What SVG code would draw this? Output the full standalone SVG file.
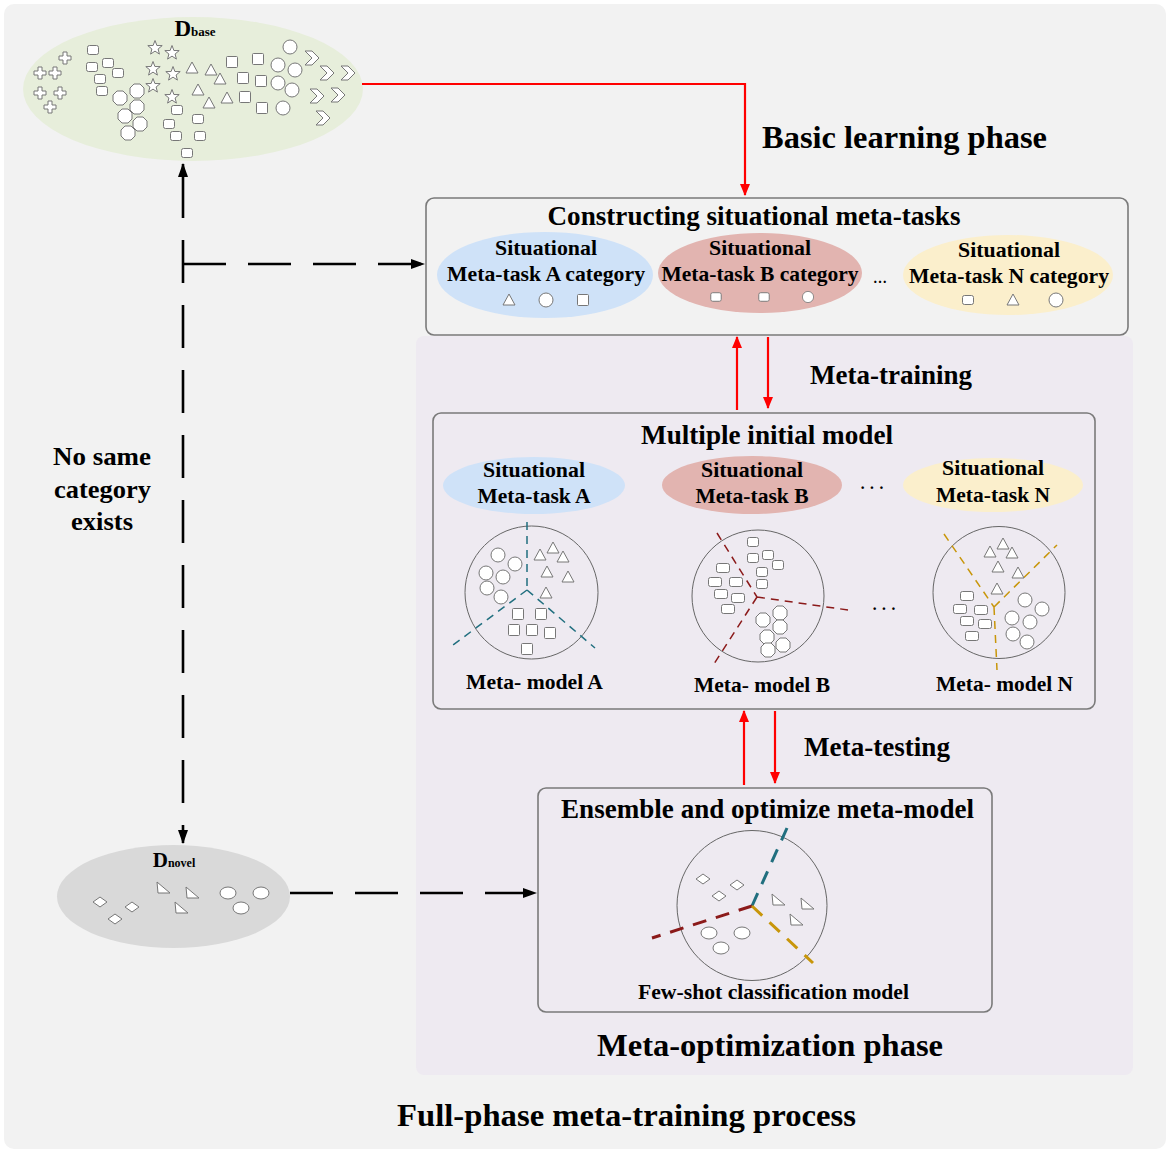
<svg xmlns="http://www.w3.org/2000/svg" xmlns:xlink="http://www.w3.org/1999/xlink" width="1170" height="1153" viewBox="0 0 1170 1153">
<style>
text{font-family:"Liberation Serif","Times New Roman",serif;font-weight:bold;fill:#000;text-anchor:middle}
.sh{fill:#fff;stroke:#777;stroke-width:1}
.box{stroke:#7a7a7a;stroke-width:1.6}
.red{stroke:#ff0000;stroke-width:2.2;fill:none}
.dash{stroke:#000;stroke-width:2.6;fill:none;stroke-dasharray:43 22}
.mc{fill:none;stroke:#666;stroke-width:1}
.t1{stroke:#216f7f;stroke-width:1.5;stroke-dasharray:8 6;fill:none}
.r1{stroke:#8b1a1a;stroke-width:1.5;stroke-dasharray:8 6;fill:none}
.y1{stroke:#c8960a;stroke-width:1.5;stroke-dasharray:8 6;fill:none}
.t3{stroke:#216f7f;stroke-width:3;stroke-dasharray:14 10;fill:none}
.r3{stroke:#8b1a1a;stroke-width:3;stroke-dasharray:14 10;fill:none}
.y3{stroke:#c8960a;stroke-width:3;stroke-dasharray:14 10;fill:none}
</style>
<defs>
<marker id="ar" viewBox="0 0 12 10" refX="11" refY="5" markerWidth="12" markerHeight="10" markerUnits="userSpaceOnUse" orient="auto-start-reverse"><path d="M0,0 L12,5 L0,10z" fill="#ff0000"/></marker>
<marker id="ab" viewBox="0 0 14 10" refX="13" refY="5" markerWidth="14" markerHeight="10" markerUnits="userSpaceOnUse" orient="auto-start-reverse"><path d="M0,0 L14,5 L0,10z" fill="#000"/></marker>
<path id="cross" class="sh" d="M-2,-6h4v4h4v4h-4v4h-4v-4h-4v-4h4z"/>
<rect id="trap" class="sh" x="-5.5" y="-4.5" width="11" height="9" rx="2"/>
<rect id="rr" class="sh" x="-6.5" y="-4.5" width="13" height="9" rx="2"/>
<polygon id="oct" class="sh" points="-3,-7 3,-7 7,-3 7,3 3,7 -3,7 -7,3 -7,-3"/>
<polygon id="star" class="sh" points="0,-7.5 1.9,-2.5 7.2,-2.4 3.1,1 4.4,6.1 0,3.1 -4.4,6.1 -3.1,1 -7.2,-2.4 -1.9,-2.5"/>
<path id="tri" class="sh" d="M0,-6 L6,5 L-6,5z"/>
<rect id="sq" class="sh" x="-5.5" y="-5.5" width="11" height="11" rx="1"/>
<circle id="circ" class="sh" r="7"/>
<path id="chev" class="sh" d="M-7,-7 h7 l7,7 l-7,7 h-7 l7,-7z"/>
<path id="dia" class="sh" d="M-7,0 L0,-5 L7,0 L0,5z"/>
<path id="rtri" class="sh" d="M-6,-6 L7,5 L-5,5z"/>
<ellipse id="oe" class="sh" rx="8" ry="6"/>
</defs>

<rect width="1170" height="1153" fill="#fff"/>
<rect x="4" y="4" width="1162" height="1145" rx="10" fill="#f2f2f2"/>
<rect id="meta-optimization-panel" x="416" y="336" width="717" height="739" rx="8" fill="#eeeaf1"/>

<g id="dbase">
<ellipse cx="193" cy="89" rx="170" ry="72" fill="#e7eedb"/>
<text x="195" y="36" font-size="23">D<tspan font-size="13">base</tspan></text>
<use href="#cross" x="65" y="58"/><use href="#cross" x="40" y="73"/><use href="#cross" x="55" y="73"/><use href="#cross" x="40" y="93"/><use href="#cross" x="60" y="93"/><use href="#cross" x="50" y="107"/>
<use href="#trap" x="93" y="50"/><use href="#trap" x="92" y="67"/><use href="#trap" x="108" y="63"/><use href="#trap" x="118" y="73"/><use href="#trap" x="100" y="79"/><use href="#trap" x="102" y="91"/>
<use href="#oct" x="120" y="98"/><use href="#oct" x="137" y="91"/><use href="#oct" x="137" y="107"/><use href="#oct" x="125" y="116"/><use href="#oct" x="140" y="124"/><use href="#oct" x="128" y="133"/>
<use href="#star" x="155" y="48"/><use href="#star" x="172" y="53"/><use href="#star" x="153" y="69"/><use href="#star" x="173" y="74"/><use href="#star" x="153" y="86"/><use href="#star" x="172" y="97"/>
<use href="#trap" x="177" y="110"/><use href="#trap" x="198" y="119"/><use href="#trap" x="169" y="124"/><use href="#trap" x="176" y="136"/><use href="#trap" x="200" y="136"/><use href="#trap" x="187" y="153"/>
<use href="#tri" x="192" y="68"/><use href="#tri" x="211" y="70"/><use href="#tri" x="220" y="79"/><use href="#tri" x="198" y="90"/><use href="#tri" x="209" y="103"/><use href="#tri" x="227" y="98"/>
<use href="#sq" x="232" y="62"/><use href="#sq" x="243" y="78"/><use href="#sq" x="258" y="59"/><use href="#sq" x="261" y="81"/><use href="#sq" x="245" y="97"/><use href="#sq" x="262" y="108"/>
<use href="#circ" x="290" y="47"/><use href="#circ" x="278" y="65"/><use href="#circ" x="295" y="70"/><use href="#circ" x="278" y="83"/><use href="#circ" x="292" y="90"/><use href="#circ" x="283" y="108"/>
<use href="#chev" x="312" y="58"/><use href="#chev" x="327" y="73"/><use href="#chev" x="348" y="73"/><use href="#chev" x="317" y="96"/><use href="#chev" x="338" y="95"/><use href="#chev" x="323" y="118"/>
</g>

<g id="dnovel">
<ellipse cx="173.5" cy="896.5" rx="116.5" ry="51.5" fill="#d9d9d9"/>
<text x="174" y="867" font-size="21">D<tspan font-size="12">novel</tspan></text>
<use href="#dia" x="100" y="902"/><use href="#dia" x="132" y="907"/><use href="#dia" x="115" y="919"/>
<use href="#rtri" x="163" y="888"/><use href="#rtri" x="192" y="893"/><use href="#rtri" x="181" y="908"/>
<use href="#oe" x="228" y="893"/><use href="#oe" x="261" y="893"/><use href="#oe" x="241" y="908"/>
</g>

<g id="constructing-box">
<rect class="box" x="426" y="198" width="702" height="137" rx="8" fill="#f2f2f2"/>
<text x="754" y="225" font-size="27" textLength="413" lengthAdjust="spacingAndGlyphs">Constructing situational meta-tasks</text>
<ellipse cx="545" cy="275" rx="108" ry="43" fill="#cfe2f8"/>
<ellipse cx="760" cy="273" rx="102" ry="40" fill="#e2b4b0"/>
<ellipse cx="1008" cy="275" rx="105" ry="40" fill="#fbefcc"/>
<text x="546" y="255" font-size="22" textLength="102" lengthAdjust="spacingAndGlyphs">Situational</text>
<text x="546" y="281" font-size="22" textLength="198" lengthAdjust="spacingAndGlyphs">Meta-task A category</text>
<text x="760" y="255" font-size="22" textLength="102" lengthAdjust="spacingAndGlyphs">Situational</text>
<text x="760" y="281" font-size="22" textLength="197" lengthAdjust="spacingAndGlyphs">Meta-task B category</text>
<text x="1009" y="257" font-size="22" textLength="102" lengthAdjust="spacingAndGlyphs">Situational</text>
<text x="1009" y="283" font-size="22" textLength="200" lengthAdjust="spacingAndGlyphs">Meta-task N category</text>
<text x="880" y="283" font-size="14" font-weight="normal" fill="#555">…</text>
<g transform="translate(509,300)"><use href="#tri"/></g>
<g transform="translate(546,300)"><use href="#circ"/></g>
<g transform="translate(583,300)"><use href="#sq"/></g>
<g transform="translate(716,297) scale(0.95)"><use href="#trap"/></g>
<g transform="translate(764,297) scale(0.95)"><use href="#trap"/></g>
<g transform="translate(808,297) scale(0.8)"><use href="#circ"/></g>
<g transform="translate(968,300)"><use href="#trap"/></g>
<g transform="translate(1013,300)"><use href="#tri"/></g>
<g transform="translate(1056,300)"><use href="#circ"/></g>
</g>

<g id="multiple-initial-model">
<rect class="box" x="433" y="413" width="662" height="296" rx="8" fill="#eeeaf1"/>
<text x="767" y="444" font-size="27" textLength="252" lengthAdjust="spacingAndGlyphs">Multiple initial model</text>
<ellipse cx="534" cy="485.5" rx="91" ry="28.5" fill="#cfe2f8"/>
<ellipse cx="752" cy="485" rx="90" ry="29" fill="#e2b4b0"/>
<ellipse cx="993" cy="485" rx="90" ry="27" fill="#fbefcc"/>
<text x="534" y="477" font-size="22" textLength="102" lengthAdjust="spacingAndGlyphs">Situational</text>
<text x="534" y="503" font-size="22" textLength="113" lengthAdjust="spacingAndGlyphs">Meta-task A</text>
<text x="752" y="477" font-size="22" textLength="102" lengthAdjust="spacingAndGlyphs">Situational</text>
<text x="752" y="503" font-size="22" textLength="113" lengthAdjust="spacingAndGlyphs">Meta-task B</text>
<text x="993" y="475" font-size="22" textLength="102" lengthAdjust="spacingAndGlyphs">Situational</text>
<text x="993" y="502" font-size="22" textLength="114" lengthAdjust="spacingAndGlyphs">Meta-task N</text>
<text x="872" y="493" font-size="16" font-weight="normal">· · ·</text>
<text x="884" y="614" font-size="16" font-weight="normal">· · ·</text>

<circle class="mc" cx="531.5" cy="592.5" r="66.5"/>
<path class="t1" d="M527,522 L527,590 M527,590 L453,645 M527,590 L595,648"/>
<use href="#circ" x="498" y="555"/><use href="#circ" x="515" y="564"/><use href="#circ" x="486" y="573"/><use href="#circ" x="503" y="577"/><use href="#circ" x="487" y="588"/><use href="#circ" x="501" y="597"/>
<use href="#tri" x="540" y="555"/><use href="#tri" x="553" y="548"/><use href="#tri" x="563" y="557"/><use href="#tri" x="547" y="572"/><use href="#tri" x="568" y="577"/><use href="#tri" x="546" y="593"/>
<use href="#sq" x="518" y="614"/><use href="#sq" x="541" y="614"/><use href="#sq" x="514" y="630"/><use href="#sq" x="532" y="630"/><use href="#sq" x="550" y="633"/><use href="#sq" x="527" y="649"/>
<text x="534.5" y="689" font-size="22" textLength="137" lengthAdjust="spacingAndGlyphs">Meta- model A</text>

<circle class="mc" cx="758" cy="596" r="66"/>
<path class="r1" d="M717,533 L757,597 M757,597 L848,610 M757,597 L712,667"/>
<use href="#trap" x="753" y="542"/><use href="#trap" x="753" y="558"/><use href="#trap" x="768" y="555"/><use href="#trap" x="778" y="565"/><use href="#trap" x="762" y="572"/><use href="#trap" x="762" y="584"/>
<use href="#rr" x="723" y="568"/><use href="#rr" x="715" y="582"/><use href="#rr" x="736" y="582"/><use href="#rr" x="721" y="594"/><use href="#rr" x="738" y="598"/><use href="#rr" x="728" y="609"/>
<use href="#oct" x="763" y="620"/><use href="#oct" x="780" y="613"/><use href="#oct" x="780" y="627"/><use href="#oct" x="767" y="637"/><use href="#oct" x="783" y="645"/><use href="#oct" x="768" y="650"/>
<text x="762" y="692" font-size="22" textLength="136" lengthAdjust="spacingAndGlyphs">Meta- model B</text>

<circle class="mc" cx="999" cy="592.5" r="66"/>
<path class="y1" d="M944,534 L994,607 M994,607 L1057,545 M994,607 L997,670"/>
<use href="#tri" x="990" y="552"/><use href="#tri" x="1003" y="544"/><use href="#tri" x="1012" y="553"/><use href="#tri" x="998" y="567"/><use href="#tri" x="1018" y="573"/><use href="#tri" x="997" y="589"/>
<use href="#rr" x="967" y="596"/><use href="#rr" x="960" y="609"/><use href="#rr" x="981" y="610"/><use href="#rr" x="967" y="621"/><use href="#rr" x="985" y="624"/><use href="#rr" x="972" y="636"/>
<use href="#circ" x="1025" y="600"/><use href="#circ" x="1042" y="609"/><use href="#circ" x="1012" y="618"/><use href="#circ" x="1030" y="622"/><use href="#circ" x="1013" y="634"/><use href="#circ" x="1027" y="642"/>
<text x="1004.5" y="691" font-size="22" textLength="137" lengthAdjust="spacingAndGlyphs">Meta- model N</text>
</g>

<g id="ensemble-box">
<rect class="box" x="538" y="788" width="454" height="224" rx="8" fill="#eeeaf1"/>
<text x="767.5" y="818" font-size="27" textLength="413" lengthAdjust="spacingAndGlyphs">Ensemble and optimize meta-model</text>
<circle class="mc" cx="752" cy="905.5" r="75"/>
<path class="t3" d="M752,906 L787,828"/>
<path class="r3" d="M752,906 L652,938"/>
<path class="y3" d="M752,906 L813,963"/>
<use href="#dia" x="703" y="879"/><use href="#dia" x="737" y="885"/><use href="#dia" x="719" y="896"/>
<use href="#rtri" x="778" y="900"/><use href="#rtri" x="807" y="904"/><use href="#rtri" x="796" y="920"/>
<use href="#oe" x="709" y="933"/><use href="#oe" x="742" y="933"/><use href="#oe" x="721" y="948"/>
<text x="773.5" y="999" font-size="21" textLength="271" lengthAdjust="spacingAndGlyphs">Few-shot classification model</text>
</g>

<g id="labels">
<text x="904.5" y="148" font-size="31" textLength="285" lengthAdjust="spacingAndGlyphs">Basic learning phase</text>
<text x="891" y="384" font-size="27" textLength="162" lengthAdjust="spacingAndGlyphs">Meta-training</text>
<text x="877" y="756" font-size="27" textLength="146" lengthAdjust="spacingAndGlyphs">Meta-testing</text>
<text x="102" y="465" font-size="26" textLength="98" lengthAdjust="spacingAndGlyphs">No same</text>
<text x="102.5" y="498" font-size="26" textLength="97" lengthAdjust="spacingAndGlyphs">category</text>
<text x="102" y="530" font-size="26" textLength="62" lengthAdjust="spacingAndGlyphs">exists</text>
<text x="770" y="1056" font-size="32" textLength="346" lengthAdjust="spacingAndGlyphs">Meta-optimization phase</text>
<text x="626.5" y="1126" font-size="32" textLength="459" lengthAdjust="spacingAndGlyphs">Full-phase meta-training process</text>
</g>

<g id="connectors">
<path class="red" d="M362,84 H745 V195" marker-end="url(#ar)"/>
<path class="red" d="M737,410 V337" marker-end="url(#ar)"/>
<path class="red" d="M768,337 V408" marker-end="url(#ar)"/>
<path class="red" d="M744,785 V711" marker-end="url(#ar)"/>
<path class="red" d="M775,711 V783" marker-end="url(#ar)"/>
<path class="dash" d="M183,218 V164" style="stroke-dasharray:none" marker-end="url(#ab)"/>
<path class="dash" d="M183,240 V843" marker-end="url(#ab)"/>
<path class="dash" d="M183,264 H424" marker-end="url(#ab)"/>
<path class="dash" d="M290,893 H536" marker-end="url(#ab)"/>
</g>
</svg>
